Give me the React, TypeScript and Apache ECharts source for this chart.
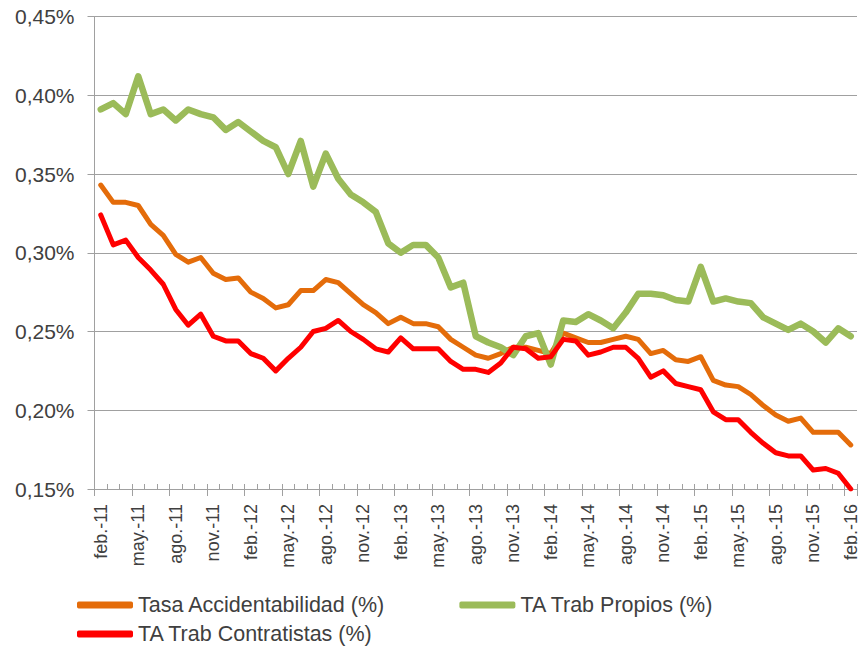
import React, { useEffect, useRef } from "react";
import * as echarts from "echarts";

const MONTHS = ["ene.", "feb.", "mar.", "abr.", "may.", "jun.", "jul.", "ago.", "sep.", "oct.", "nov.", "dic."];
const YEARS = ["11", "12", "13", "14", "15", "16"];
// feb.-11 … feb.-16 (61 months)
const categories: string[] = [];
YEARS.forEach((y, yi) => {
  MONTHS.forEach((m, mi) => {
    if ((yi === 0 && mi < 1) || (yi === YEARS.length - 1 && mi > 1)) return;
    categories.push(m + "-" + y);
  });
});

const tasaAccidentabilidad = [
  0.343, 0.332, 0.332, 0.330, 0.318, 0.311, 0.299, 0.294, 0.297, 0.287, 0.283, 0.284,
  0.275, 0.271, 0.265, 0.267, 0.276, 0.276, 0.283, 0.281, 0.274, 0.267, 0.262, 0.255,
  0.259, 0.255, 0.255, 0.253, 0.245, 0.240, 0.235, 0.233, 0.236, 0.240, 0.240, 0.238,
  0.236, 0.249, 0.246, 0.243, 0.243, 0.245, 0.247, 0.245, 0.236, 0.238, 0.232, 0.231,
  0.234, 0.219, 0.216, 0.215, 0.210, 0.203, 0.197, 0.193, 0.195, 0.186, 0.186, 0.186,
  0.178,
];

const trabPropios = [
  0.391, 0.395, 0.388, 0.412, 0.388, 0.391, 0.384, 0.391, 0.388, 0.386, 0.378, 0.383,
  0.377, 0.371, 0.367, 0.350, 0.371, 0.342, 0.363, 0.347, 0.337, 0.332, 0.326, 0.306,
  0.300, 0.305, 0.305, 0.297, 0.278, 0.281, 0.247, 0.243, 0.240, 0.235, 0.247, 0.249,
  0.229, 0.257, 0.256, 0.261, 0.257, 0.252, 0.262, 0.274, 0.274, 0.273, 0.270, 0.269,
  0.291, 0.269, 0.271, 0.269, 0.268, 0.259, 0.255, 0.251, 0.255, 0.250, 0.243, 0.252,
  0.247,
];

const trabContratistas = [
  0.324, 0.305, 0.308, 0.297, 0.289, 0.280, 0.264, 0.254, 0.261, 0.247, 0.244, 0.244,
  0.236, 0.233, 0.225, 0.233, 0.240, 0.250, 0.252, 0.257, 0.250, 0.245, 0.239, 0.237,
  0.246, 0.239, 0.239, 0.239, 0.231, 0.226, 0.226, 0.224, 0.230, 0.240, 0.239, 0.233,
  0.234, 0.245, 0.244, 0.235, 0.237, 0.240, 0.240, 0.233, 0.221, 0.225, 0.217, 0.215,
  0.213, 0.199, 0.194, 0.194, 0.186, 0.179, 0.173, 0.171, 0.171, 0.162, 0.163, 0.160,
  0.150,
];

const SERIES_NAMES = ["Tasa Accidentabilidad (%)", "TA Trab Propios (%)", "TA Trab Contratistas (%)"];
const COLORS = ["#E46C0A", "#9BBB59", "#FF0000"];
const Y_MIN = 0.15;
const Y_MAX = 0.45;
const Y_STEP = 0.05;

const FONT = "'Liberation Sans', Arial, sans-serif";
const GRAY = "#a0a0a0";
const TEXT = "#404040";

export default function App() {
  const ref = useRef<HTMLDivElement>(null);

  useEffect(() => {
    if (!ref.current) return;
    const chart = echarts.init(ref.current, null, { renderer: "svg" });
    const legendCommon = {
      icon: "roundRect",
      itemWidth: 56,
      itemHeight: 7,
      textStyle: { fontFamily: FONT, fontSize: 21.5, color: TEXT },
      orient: "horizontal",
      selectedMode: false,
      padding: 0,
    };
    chart.setOption({
      animation: false,
      backgroundColor: "#ffffff",
      textStyle: { fontFamily: FONT },
      grid: {
        left: 94.5,
        top: 16.5,
        right: 5,
        bottom: 160,
        containLabel: false,
        outerBoundsMode: "none",
      },
      legend: [
        {
          ...legendCommon,
          data: [SERIES_NAMES[0], SERIES_NAMES[1]],
          left: 77,
          top: 594,
          itemGap: 74,
        },
        {
          ...legendCommon,
          data: [SERIES_NAMES[2]],
          left: 77,
          top: 623,
        },
      ],
      xAxis: [
        {
          type: "category",
          data: categories,
          boundaryGap: true,
          axisLine: { show: true, lineStyle: { color: GRAY, width: 1 } },
          axisTick: {
            show: true,
            inside: true,
            length: 5,
            interval: 0,
            lineStyle: { color: GRAY, width: 1 },
          },
          axisLabel: {
            interval: 2,
            rotate: 90,
            margin: 15,
            fontFamily: FONT,
            fontSize: 18,
            color: TEXT,
          },
          splitLine: { show: false },
        },
        {
          type: "category",
          data: categories,
          boundaryGap: true,
          position: "bottom",
          axisLine: { show: false },
          axisTick: {
            show: true,
            inside: false,
            length: 7,
            interval: (index: number) => index % 3 === 0,
            lineStyle: { color: GRAY, width: 1 },
          },
          axisLabel: { show: false },
          splitLine: { show: false },
        },
      ],
      yAxis: {
        type: "value",
        min: Y_MIN,
        max: Y_MAX,
        interval: Y_STEP,
        axisLine: { show: true, lineStyle: { color: GRAY, width: 1 } },
        axisTick: { show: true, length: 7, lineStyle: { color: GRAY, width: 1 } },
        splitLine: { show: true, lineStyle: { color: GRAY, width: 1 } },
        axisLabel: {
          margin: 20,
          fontFamily: FONT,
          fontSize: 21,
          color: TEXT,
          formatter: (v: number) => v.toFixed(2).replace(".", ",") + "%",
        },
      },
      series: [
        {
          name: SERIES_NAMES[0],
          type: "line",
          data: tasaAccidentabilidad,
          showSymbol: false,
          symbol: "none",
          color: COLORS[0],
          lineStyle: { color: COLORS[0], width: 5, cap: "round", join: "round" },
          emphasis: { disabled: true },
          z: 2,
        },
        {
          name: SERIES_NAMES[1],
          type: "line",
          data: trabPropios,
          showSymbol: false,
          symbol: "none",
          color: COLORS[1],
          lineStyle: { color: COLORS[1], width: 6.5, cap: "round", join: "round" },
          emphasis: { disabled: true },
          z: 3,
        },
        {
          name: SERIES_NAMES[2],
          type: "line",
          data: trabContratistas,
          showSymbol: false,
          symbol: "none",
          color: COLORS[2],
          lineStyle: { color: COLORS[2], width: 5, cap: "round", join: "round" },
          emphasis: { disabled: true },
          z: 4,
        },
      ],
    });
    return () => chart.dispose();
  }, []);

  return (
    <div
      ref={ref}
      style={{ position: "fixed", left: 0, top: 0, width: 862, height: 649, background: "#fff" }}
    />
  );
}
